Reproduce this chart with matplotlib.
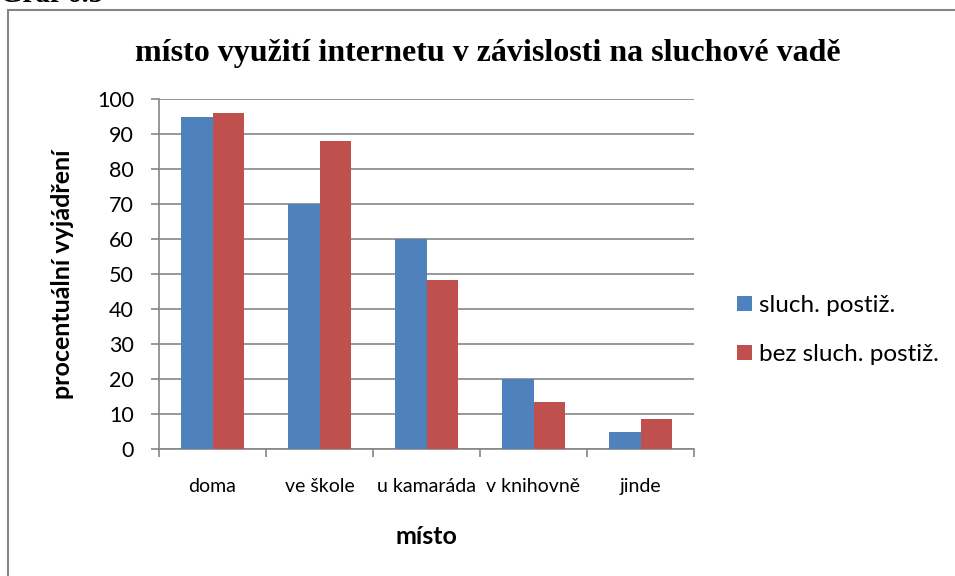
import matplotlib
matplotlib.use("Agg")
import matplotlib.pyplot as plt
from matplotlib.patches import Rectangle
import numpy as np

# DATA
mista = ["doma", "ve škole", "u kamaráda", "v knihovně", "jinde"]
sluch_postiz = [95, 70, 60, 20, 5]
bez_sluch_postiz = [96, 88, 48.4, 13.5, 8.7]
y_ticks = [0, 10, 20, 30, 40, 50, 60, 70, 80, 90, 100]

BLUE = "#4F81BD"
RED = "#C0504D"
GRID = "#868686"
SANS = "Lato"
SERIF = "Liberation Serif"

fig = plt.figure(figsize=(9.55, 5.76), dpi=100)
ax = fig.add_axes([159 / 955, 1 - 449.3 / 576, 535 / 955, 350 / 576])

x = np.arange(len(mista))
w = 0.29
ax.bar(x - w / 2, sluch_postiz, w, color=BLUE, label="sluch. postiž.", zorder=3)
ax.bar(x + w / 2, bez_sluch_postiz, w, color=RED, label="bez sluch. postiž.", zorder=3)

ax.set_xlim(-0.5, len(mista) - 0.5)
ax.set_ylim(0, 100)
ax.set_yticks(y_ticks)
ax.grid(axis="y", color=GRID, linewidth=1.2, zorder=0)

# x ticks at category borders, labels in the middle
ax.set_xticks(np.arange(-0.5, len(mista), 1.0))
ax.set_xticklabels([])
ax.set_xticks(x, minor=True)
ax.set_xticklabels(mista, minor=True, fontsize=14, family=SANS)
ax.tick_params(axis="x", which="major", length=6, width=1.2, color=GRID, direction="out")
ax.tick_params(axis="x", which="minor", length=0, pad=21)
ax.tick_params(axis="y", length=6, width=1.2, color=GRID, pad=12, labelsize=15.5)
for t in ax.get_yticklabels():
    t.set_family(SANS)

for s in ["top", "right"]:
    ax.spines[s].set_visible(False)
for s in ["left", "bottom"]:
    ax.spines[s].set_color(GRID)
    ax.spines[s].set_linewidth(1.2)

ax.set_ylabel("procentuální vyjádření", fontsize=18, fontweight="bold", family=SANS)
ax.yaxis.set_label_coords((62 - 159) / 535, 0.5)
ax.yaxis.label.set_va("center")
ax.set_xlabel("místo", fontsize=18, fontweight="bold", family=SANS)
ax.xaxis.set_label_coords(0.5, -(537 - 449.3) / 350)
ax.xaxis.label.set_va("center")

fig.text(488 / 955, 1 - 61 / 576, "místo využití internetu v závislosti na sluchové vadě",
         ha="center", va="baseline", fontsize=23, fontweight="bold", family=SERIF)

# caption above the chart, mostly cut off at the top edge
fig.text(0.0, 1 - 2 / 576, "Graf 6.5", ha="left", va="baseline",
         fontsize=21, fontweight="bold", family=SERIF)

fig.legend(loc="upper left", bbox_to_anchor=(737 / 955, 1 - 295 / 576), frameon=False,
           prop={"family": SANS, "size": 17.5}, handlelength=0.6, handleheight=0.6,
           handletextpad=0.3, labelspacing=1.15, borderpad=0, borderaxespad=0)

fig.add_artist(Rectangle((8 / 955, -0.05), 1.2, 1 - 10 / 576 + 0.05, transform=fig.transFigure,
                         fill=False, edgecolor=GRID, linewidth=1.5))

fig.savefig("out.png", dpi=100)
